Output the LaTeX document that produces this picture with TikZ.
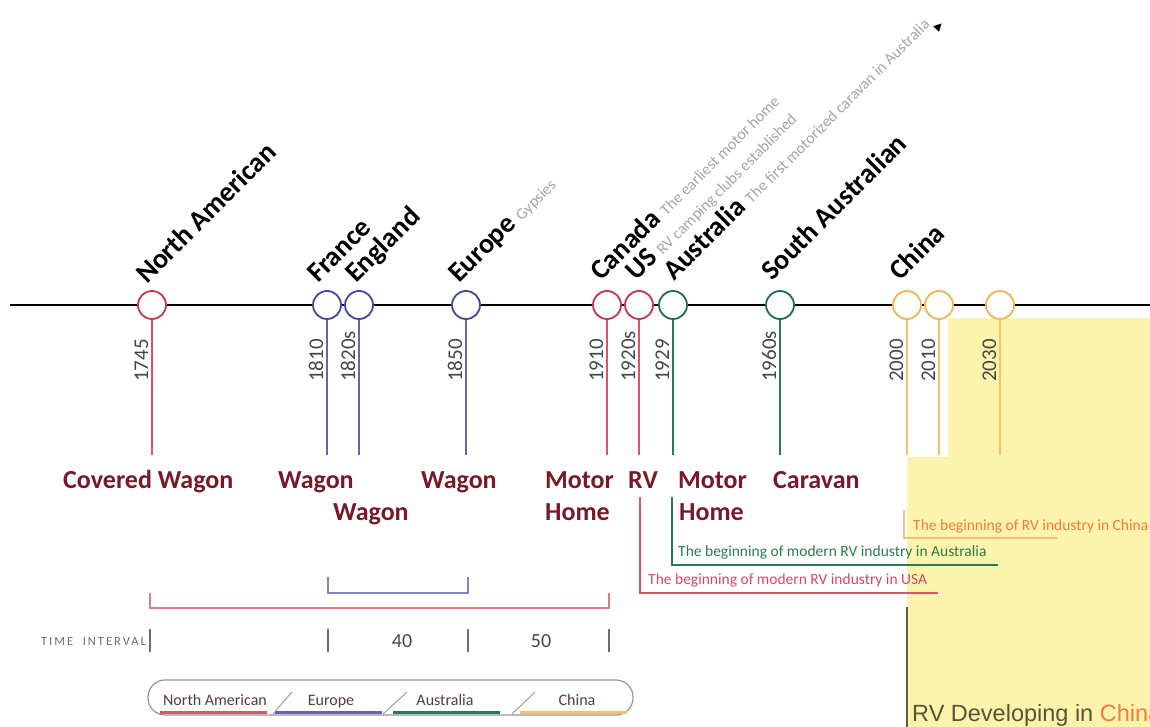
\documentclass[tikz,border=0pt]{standalone}
\usepackage{fontspec}
\setmainfont{Carlito}
\newfontfamily\arialfont{Liberation Sans}
\newfontfamily\spacedfont[LetterSpace=16]{Carlito}
\definecolor{cred}{RGB}{200,50,75}
\definecolor{cblue}{RGB}{70,70,160}
\definecolor{cgreen}{RGB}{30,110,80}
\definecolor{corange}{RGB}{240,180,80}
\definecolor{sred}{RGB}{215,85,105}
\definecolor{sblue}{RGB}{100,100,175}
\definecolor{sgreen}{RGB}{40,120,90}
\definecolor{sorange}{RGB}{242,195,110}
\definecolor{prodred}{RGB}{120,25,40}
\definecolor{yearg}{RGB}{70,70,70}
\definecolor{noteg}{RGB}{165,165,165}
\definecolor{ybg}{RGB}{252,243,172}
\definecolor{annred}{RGB}{215,70,100}
\definecolor{anngreen}{RGB}{40,125,75}
\definecolor{annorange}{RGB}{240,125,60}
\definecolor{brred}{RGB}{222,125,135}
\definecolor{brblue}{RGB}{130,130,195}
\definecolor{tig}{RGB}{110,110,110}
\definecolor{legg}{RGB}{150,150,150}
\definecolor{legtext}{RGB}{85,60,65}
\definecolor{devtext}{RGB}{85,85,55}
\definecolor{devline}{RGB}{95,95,65}
\newcommand\greynote[1]{{\fontsize{16}{16}\selectfont\mdseries\color{noteg}#1}}
\begin{document}
\begin{tikzpicture}[x=1pt,y=-1pt,
  dot/.style={circle, draw, line width=1.8pt, fill=white, minimum size=28pt, inner sep=0pt},
  stem/.style={line width=1.5pt},
  yr/.style={rotate=90, anchor=base west, inner sep=0pt, font=\fontsize{21}{21}\selectfont, text=yearg},
  ctry/.style={rotate=45, anchor=base west, inner sep=0pt, font=\fontsize{28}{28}\selectfont\bfseries, text=black},
  prod/.style={anchor=base west, inner sep=0pt, font=\fontsize{26}{26}\selectfont\bfseries, text=prodred},
  ann/.style={anchor=base west, inner sep=0pt, font=\fontsize{15.5}{15.5}\selectfont},
  tick/.style={line width=1.2pt, draw=tig},
  legtxt/.style={anchor=base, inner sep=0pt, font=\fontsize{16}{16}\selectfont, text=legtext},
  uline/.style={line width=3pt},
  slash/.style={line width=0.9pt, draw=legg}
]
\useasboundingbox (0,0) rectangle (1150,727);
% yellow background
\fill[ybg] (907,727) -- (907,457) -- (948,457) -- (948,318) -- (1150,318) -- (1150,727) -- cycle;

% timeline
\coordinate (tlL) at (10,305);
\coordinate (tlR) at (1150,305);
\draw[line width=1.8pt] (tlL) -- (tlR);

% circles
\node[dot, draw=cred]    (c1745) at (152,305) {};
\node[dot, draw=cblue]   (c1810) at (327,305) {};
\node[dot, draw=cblue]   (c1820) at (359,305) {};
\node[dot, draw=cblue]   (c1850) at (466,305) {};
\node[dot, draw=cred]    (c1910) at (607,305) {};
\node[dot, draw=cred]    (c1920) at (639,305) {};
\node[dot, draw=cgreen]  (c1929) at (673,305) {};
\node[dot, draw=cgreen]  (c1960) at (780,305) {};
\node[dot, draw=corange] (c2000) at (907,305) {};
\node[dot, draw=corange] (c2010) at (939,305) {};
\node[dot, draw=corange] (c2030) at (1000,305) {};

% stems
\foreach \n/\c in {1745/sred,1810/sblue,1820/sblue,1850/sblue,1910/sred,1920/sred,1929/sgreen,1960/sgreen,2000/sorange,2010/sorange,2030/sorange}{
  \coordinate (e\n) at (c\n.south |- 0,455);
  \draw[stem, draw=\c] (c\n.south) -- (e\n);
}

% year labels
\node[yr] (y1745) at (148,382) {1745};
\node[yr] (y1810) at (323,382) {1810};
\node[yr] (y1820) at (355,382) {1820s};
\node[yr] (y1850) at (462,382) {1850};
\node[yr] (y1910) at (603,382) {1910};
\node[yr] (y1920) at (635,382) {1920s};
\node[yr] (y1929) at (669,382) {1929};
\node[yr] (y1960) at (776,382) {1960s};
\node[yr] (y2000) at (903,382) {2000};
\node[yr] (y2010) at (935,382) {2010};
\node[yr] (y2030) at (996,382) {2030};

% country labels
\node[ctry] (lna) at (147,285) {North American};
\node[ctry] (lfr) at (318,284) {France};
\node[ctry] (len) at (356,284) {England};
\node[ctry] (leu) at (459,284) {Europe \greynote{Gypsies}};
\node[ctry] (lca) at (601,282) {Canada \greynote{The earliest motor home}};
\node[ctry] (lus) at (636,282) {US \greynote{RV camping clubs established}};
\node[ctry] (lau) at (674,282) {Australia \greynote{The first motorized caravan in Australia}};
\node[ctry] (lsa) at (772,282) {South Australian};
\node[ctry] (lcn) at (900,282) {China};
\fill[black] (941.5,23.5) -- (938.9,31.9) -- (933.2,26.2) -- cycle;

% product labels
\node[prod] (pcw) at (63,488) {Covered Wagon};
\node[prod] (pw1) at (278,488) {Wagon};
\node[prod] (pw2) at (333,520) {Wagon};
\node[prod] (pw3) at (421,488) {Wagon};
\node[prod] (pm1) at (545,488) {Motor};
\node[prod] (ph1) at (545,520) {Home};
\node[prod] (prv) at (628,488) {RV};
\node[prod] (pm2) at (678,488) {Motor};
\node[prod] (ph2) at (679,520) {Home};
\node[prod] (pca) at (773,488) {Caravan};

% annotation lines
\coordinate (usT) at (640,497);
\coordinate (usC) at (640,593);
\coordinate (usE) at (938,593);
\draw[line width=1.2pt, draw=sred] (usT) -- (usC) -- (usE);
\node[ann, text=annred] (aus) at (648,584) {The beginning of modern RV industry in USA};
\coordinate (auT) at (672,497);
\coordinate (auC) at (672,565);
\coordinate (auE) at (998,565);
\draw[line width=1.2pt, draw=sgreen] (auT) -- (auC) -- (auE);
\node[ann, text=anngreen] (aau) at (678,556) {The beginning of modern RV industry in Australia};
\coordinate (cnT) at (904,510);
\coordinate (cnC) at (904,538);
\coordinate (cnE) at (1057,538);
\draw[line width=1.2pt, draw=sorange] (cnT) -- (cnC) -- (cnE);
\node[ann, text=annorange] (acn) at (913,530) {The beginning of RV industry in China};

% brackets
\coordinate (bb1) at (328,577); \coordinate (bb2) at (328,593);
\coordinate (bb3) at (468,593); \coordinate (bb4) at (468,577);
\draw[line width=1.3pt, draw=brblue] (bb1) -- (bb2) -- (bb3) -- (bb4);
\coordinate (br1) at (150,593); \coordinate (br2) at (150,608);
\coordinate (br3) at (609,608); \coordinate (br4) at (609,593);
\draw[line width=1.3pt, draw=brred] (br1) -- (br2) -- (br3) -- (br4);

% time interval
\node[anchor=east, inner sep=0pt, text=tig, font=\spacedfont\fontsize{12.5}{12.5}\selectfont] (ti) at (146,641) {TIME\ \ INTERVAL};
\foreach \x [count=\i] in {150,328,468,609}{
  \coordinate (ta\i) at (\x,629); \coordinate (tb\i) at (\x,652);
  \draw[tick] (ta\i) -- (tb\i);
}
\node[inner sep=0pt, text=yearg, font=\fontsize{20}{20}\selectfont] (i40) at (402,641) {40};
\node[inner sep=0pt, text=yearg, font=\fontsize{20}{20}\selectfont] (i50) at (541,641) {50};

% legend
\node[draw=legg, line width=1.2pt, rounded corners=17pt, minimum width=485pt, minimum height=35pt, inner sep=0pt] (legend) at (390.5,697.5) {};
\node[legtxt] (lg1) at (215,705) {North American};
\node[legtxt] (lg2) at (331,705) {Europe};
\node[legtxt] (lg3) at (445,705) {Australia};
\node[legtxt] (lg4) at (577,705) {China};
\coordinate (u1a) at (160,712); \coordinate (u1b) at (267,712);
\coordinate (u2a) at (275,712); \coordinate (u2b) at (382,712);
\coordinate (u3a) at (393,712); \coordinate (u3b) at (500,712);
\coordinate (u4a) at (520,712); \coordinate (u4b) at (627,712);
\draw[uline, draw=sred] (u1a) -- (u1b);
\draw[uline, draw=sblue] (u2a) -- (u2b);
\draw[uline, draw=sgreen] (u3a) -- (u3b);
\draw[uline, draw=sorange] (u4a) -- (u4b);
\coordinate (s1a) at (273,714); \coordinate (s1b) at (292,692);
\coordinate (s2a) at (383,714); \coordinate (s2b) at (407,692);
\coordinate (s3a) at (512,714); \coordinate (s3b) at (535,692);
\draw[slash] (s1a) -- (s1b);
\draw[slash] (s2a) -- (s2b);
\draw[slash] (s3a) -- (s3b);

% RV developing in China
\coordinate (dvT) at (907,607);
\coordinate (dvB) at (907,727);
\draw[line width=1.6pt, draw=devline] (dvT) -- (dvB);
\node[anchor=base west, inner sep=0pt, text=devtext, font=\arialfont\fontsize{23.5}{23.5}\selectfont] (dev) at (912,721) {RV Developing in \textcolor{annorange}{China}};
\end{tikzpicture}
\end{document}
